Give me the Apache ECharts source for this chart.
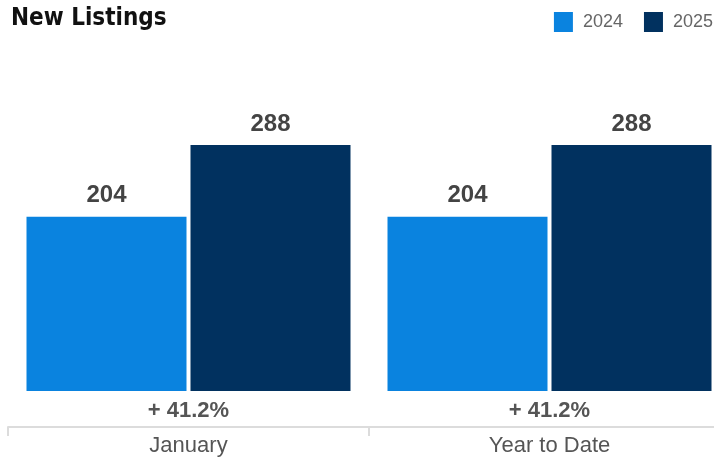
<!DOCTYPE html>
<html>
<head>
<meta charset="utf-8">
<script src="https://cdn.jsdelivr.net/npm/echarts@6/dist/echarts.min.js"></script>
<style>
  html, body { margin: 0; padding: 0; background: #fff; }
  #chart { width: 714px; height: 463px; }
</style>
</head>
<body>
<div id="chart"></div>
<script>
const categories = ['January', 'Year to Date']
const changeLabels = ['+ 41.2%', '+ 41.2%']
const values2024 = [204, 204]
const values2025 = [288, 288]

const narrow = '"DejaVu Sans Condensed", "Liberation Sans Narrow", "Arial Narrow", sans-serif'
const sans = '"Liberation Sans", Arial, sans-serif'

const chart = echarts.init(document.getElementById('chart'))

const option = {
  animation: false,
  title: {
    text: 'New Listings',
    left: 6,
    top: 2,
    textStyle: {
      fontFamily: narrow,
      fontWeight: 'bold',
      fontSize: 24,
      color: '#111'
    }
  },
  legend: {
    right: -4,
    top: 7,
    itemWidth: 19,
    itemHeight: 20,
    itemGap: 21,
    icon: 'rect',
    textStyle: {
      fontFamily: sans,
      fontSize: 18,
      color: '#666',
      padding: [0, 0, 0, 5]
    },
    data: ['2024', '2025']
  },
  grid: {
    left: 8,
    right: -16,
    top: 92,
    bottom: 72,
    containLabel: false,
    outerBoundsMode: 'none'
  },
  xAxis: [
    {
      type: 'category',
      data: changeLabels,
      axisLine: { show: false },
      axisTick: { show: false },
      axisLabel: {
        margin: 9,
        fontFamily: sans,
        fontWeight: 'bold',
        fontSize: 22,
        color: '#555'
      }
    },
    {
      type: 'category',
      data: categories,
      position: 'bottom',
      offset: 36,
      axisLine: { lineStyle: { color: '#dcdcdc', width: 2 } },
      axisTick: { show: true, length: 9, lineStyle: { color: '#dcdcdc', width: 2 } },
      axisLabel: {
        margin: 8,
        fontFamily: sans,
        fontSize: 22,
        color: '#555'
      }
    }
  ],
  yAxis: {
    type: 'value',
    min: 0,
    max: 350,
    show: false
  },
  series: [
    {
      name: '2024',
      type: 'bar',
      data: values2024,
      barWidth: 160,
      barGap: '2.5%',
      itemStyle: { color: '#0a83df' },
      label: {
        show: true,
        position: 'top',
        distance: 9,
        fontFamily: sans,
        fontWeight: 'bold',
        fontSize: 24,
        color: '#444'
      }
    },
    {
      name: '2025',
      type: 'bar',
      data: values2025,
      barWidth: 160,
      barGap: '2.5%',
      itemStyle: { color: '#01315f' },
      label: {
        show: true,
        position: 'top',
        distance: 9,
        fontFamily: sans,
        fontWeight: 'bold',
        fontSize: 24,
        color: '#444'
      }
    }
  ]
}

chart.setOption(option)
</script>
</body>
</html>
